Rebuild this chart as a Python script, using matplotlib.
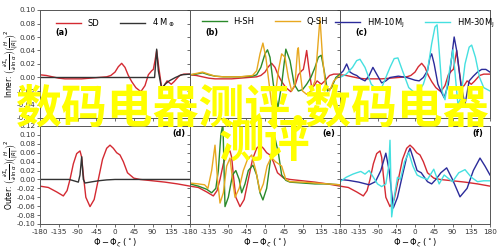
import matplotlib
matplotlib.use("Agg")
import matplotlib.pyplot as plt
import numpy as np

plt.rcParams['font.family'] = ['DejaVu Sans']
plt.rcParams['axes.unicode_minus'] = False

# ---------------- data ----------------
xticks_vals = [-180, -135, -90, -45, 0, 45, 90, 135, 180]

# top row (Inner)
sd_top_x = [-180,-165,-150,-135,-120,-100,-80,-60,-40,-20,-10,0,8,16,24,32,40,50,62,72,80,88,92,96,100,105,112,118,125,135,142,155,165,180]
sd_top_y = [0.004,0.003,0.001,-0.001,-0.002,-0.002,-0.002,-0.001,0.000,0.001,0.003,0.008,0.016,0.021,0.015,0.003,-0.006,-0.015,-0.021,-0.012,0.004,0.010,0.012,0.025,0.040,0.015,-0.015,-0.012,-0.005,-0.010,-0.006,0.003,0.005,0.005]
m4_top_x = [-180,90,95,100,104,112,120,130,145,160,180]
m4_top_y = [0.0,0.0,0.0,0.042,0.010,-0.017,-0.010,-0.005,0.000,0.004,0.005]
hsh_top_x = [-180,-165,-150,-135,-120,-100,-60,-30,-20,-10,0,6,12,20,31,40,50,60,70,80,90,100,110,120,128,135,142,150,160,170,180]
hsh_top_y = [0.004,0.005,0.007,0.004,0.002,0.001,0.001,0.002,0.004,0.015,0.035,0.041,0.030,-0.010,-0.045,-0.010,0.042,0.025,-0.010,-0.020,-0.018,-0.010,0.000,0.015,0.030,0.033,0.010,-0.020,-0.015,0.000,0.005]
qsh_top_x = [-180,-165,-150,-135,-120,-100,-60,-30,-20,-12,-5,2,10,16,24,32,40,48,56,64,72,78,80,84,90,100,110,120,126,132,138,145,155,165,180]
qsh_top_y = [0.004,0.006,0.008,0.005,0.002,0.001,0.001,0.003,0.010,0.035,0.051,0.030,-0.010,-0.040,-0.030,0.010,0.035,0.030,0.000,-0.020,-0.010,0.040,0.044,0.010,-0.020,-0.025,-0.020,-0.005,0.040,0.088,0.030,-0.010,-0.020,-0.005,0.003]
hm10_top_x = [-180,-172,-164,-156,-148,-140,-130,-120,-110,-101,-92,-80,-70,-60,-40,-20,0,10,20,30,36,40,46,55,62,70,80,88,94,100,110,120,130,140,150,160,170,180]
hm10_top_y = [0.005,0.010,0.020,0.008,0.005,0.003,-0.002,-0.005,0.003,0.015,0.005,-0.008,-0.005,0.000,0.002,0.000,-0.004,-0.005,0.000,0.010,0.030,0.035,0.020,-0.010,-0.020,-0.030,-0.010,0.030,0.060,0.040,-0.010,-0.040,-0.005,0.002,0.008,0.012,0.012,0.008]
hm30_top_x = [-180,-165,-150,-140,-132,-120,-105,-92,-80,-60,-50,-41,-30,-15,0,10,20,30,40,48,53,58,65,72,80,91,103,110,120,130,136,145,155,165,180]
hm30_top_y = [0.000,0.005,0.015,0.025,0.027,0.015,-0.010,-0.018,-0.015,0.015,0.028,0.029,0.010,-0.015,-0.023,-0.020,-0.010,0.010,0.050,0.075,0.078,0.040,-0.020,-0.033,0.000,0.041,-0.040,-0.030,0.020,0.045,0.048,0.030,0.000,-0.015,-0.020]

# bottom row (Outer)
sd_bot_x = [-180,-160,-140,-124,-115,-108,-100,-92,-84,-80,-76,-70,-60,-50,-40,-30,-20,-12,-4,4,12,20,30,45,60,90,120,150,180]
sd_bot_y = [-0.015,-0.018,-0.028,-0.037,-0.025,0.000,0.035,0.058,0.064,0.050,0.010,-0.040,-0.061,-0.045,0.000,0.045,0.070,0.077,0.070,0.060,0.055,0.040,0.015,0.003,0.000,-0.003,-0.006,-0.010,-0.015]
m4_bot_x = [-180,-110,-95,-88,-84,-80,-76,-72,-60,-40,-20,0,180]
m4_bot_y = [0.0,0.0,-0.004,-0.006,0.010,0.051,0.000,-0.008,-0.006,-0.003,-0.001,0.0,0.0]
hsh_bot_x = [-180,-160,-140,-128,-118,-112,-106,-101,-96,-88,-78,-70,-62,-56,-48,-40,-29,-20,-12,-5,4,14,24,32,40,50,60,90,120,150,180]
hsh_bot_y = [-0.010,-0.015,-0.022,-0.030,-0.020,0.020,0.100,0.125,-0.061,-0.040,0.010,0.020,0.000,-0.030,-0.010,0.020,0.032,0.010,-0.030,-0.046,-0.020,0.050,0.093,0.060,0.010,-0.002,-0.006,-0.008,-0.010,-0.010,-0.012]
qsh_bot_x = [-180,-160,-145,-137,-128,-120,-114,-108,-100,-92,-84,-78,-72,-62,-52,-42,-32,-22,-12,-4,5,15,25,40,50,60,90,120,150,180]
qsh_bot_y = [-0.008,-0.010,-0.012,-0.020,0.020,0.077,0.000,-0.053,-0.030,0.030,0.048,0.000,-0.040,-0.020,0.020,0.045,0.055,0.020,-0.028,-0.010,0.030,0.050,0.040,0.030,0.000,-0.005,-0.006,-0.008,-0.010,-0.012]
hm10_bot_x = [-180,-160,-135,-110,-95,-82,-70,-62,-52,-42,-30,-20,-12,-5,5,15,30,40,50,62,76,90,108,125,140,156,168,180]
hm10_bot_y = [0.000,-0.002,-0.006,-0.012,-0.005,0.020,0.059,0.020,-0.064,-0.040,0.010,0.050,0.070,0.050,0.020,0.015,-0.005,-0.010,0.000,0.015,0.026,0.000,-0.039,-0.020,0.020,0.048,0.030,0.010]
hm30_bot_x = [-180,-165,-149,-140,-130,-120,-110,-100,-90,-80,-70,-63,-60,-56,-50,-42,-35,-25,-15,-5,5,15,30,45,58,70,90,105,120,135,150,165,180]
hm30_bot_y = [-0.005,0.005,0.012,0.015,0.018,0.012,0.020,0.005,-0.010,-0.016,-0.010,0.030,0.088,-0.084,-0.040,0.005,0.000,0.040,0.060,0.030,0.010,0.005,0.000,0.023,-0.010,0.010,-0.005,0.015,0.022,0.005,-0.005,-0.003,-0.003]

RED = '#d42a32'
BLK = '#333333'
GRN = '#2a8a2a'
YEL = '#e8a820'
NAV = '#2b2b9a'
CYA = '#45e0e0'

panels_top = [
    ('(a)', [(sd_top_x, sd_top_y, RED, 'SD'), (m4_top_x, m4_top_y, BLK, r'4 M$_\oplus$')]),
    ('(b)', [(sd_top_x, sd_top_y, RED, None), (hsh_top_x, hsh_top_y, GRN, 'H-SH'), (qsh_top_x, qsh_top_y, YEL, 'Q-SH')]),
    ('(c)', [(sd_top_x, sd_top_y, RED, None), (hm10_top_x, hm10_top_y, NAV, r'HM-10M$_\mathrm{J}$'), (hm30_top_x, hm30_top_y, CYA, r'HM-30M$_\mathrm{J}$')]),
]
panels_bot = [
    ('(d)', [(sd_bot_x, sd_bot_y, RED, None), (m4_bot_x, m4_bot_y, BLK, None)]),
    ('(e)', [(sd_bot_x, sd_bot_y, RED, None), (hsh_bot_x, hsh_bot_y, GRN, None), (qsh_bot_x, qsh_bot_y, YEL, None)]),
    ('(f)', [(sd_bot_x, sd_bot_y, RED, None), (hm10_bot_x, hm10_bot_y, NAV, None), (hm30_bot_x, hm30_bot_y, CYA, None)]),
]

fig = plt.figure(figsize=(5, 2.5), dpi=100)
W = 500.0; H = 250.0
left0 = 40; pw = 150
SPINE = '#555555'
FS = 5.2
YLAB = r'$\left(\frac{\partial\Sigma_s}{\partial\,\ln\,\alpha}\right)\left(\frac{H}{|R|}\right)^2$'

def style(ax):
    for s in ax.spines.values():
        s.set_color(SPINE); s.set_linewidth(0.7)
    ax.tick_params(labelsize=FS, length=2, width=0.5, colors='#333333', pad=1.5)

for i, (lab, series) in enumerate(panels_top):
    ax = fig.add_axes([(left0 + i*pw)/W, (H-118)/H, pw/W, 108/H])
    for x, y, c, l in series:
        ax.plot(x, y, color=c, lw=1.0, label=l)
    ax.set_xlim(-180, 180); ax.set_ylim(-0.06, 0.10)
    ax.set_xticks(xticks_vals); ax.set_xticklabels([])
    ax.set_yticks(np.arange(-0.06, 0.1001, 0.02))
    if i == 0:
        ax.set_yticklabels([f'{v:.2f}' for v in np.arange(-0.06, 0.1001, 0.02)])
    else:
        ax.set_yticklabels([])
    style(ax)
    ax.legend(loc='upper center', ncol=2, frameon=False, fontsize=FS+0.8,
              handlelength=3, columnspacing=2.5, borderaxespad=0.4)
    ax.text(0.1, 0.77, lab, transform=ax.transAxes, fontsize=FS+0.6, fontweight='bold')

fig.text(0.022, (H-64)/H, 'Inner: ' + YLAB, rotation=90, ha='center', va='center', fontsize=FS+0.3)

for i, (lab, series) in enumerate(panels_bot):
    ax = fig.add_axes([(left0 + i*pw)/W, (H-224)/H, pw/W, 98/H])
    for x, y, c, l in series:
        ax.plot(x, y, color=c, lw=1.0)
    ax.set_xlim(-180, 180); ax.set_ylim(-0.10, 0.12)
    tv = xticks_vals if i == 2 else xticks_vals[:-1]
    ax.set_xticks(tv); ax.set_xticklabels([str(v) for v in tv])
    ax.set_yticks(np.arange(-0.10, 0.1201, 0.02))
    if i == 0:
        ax.set_yticklabels([f'{v:.2f}' for v in np.arange(-0.10, 0.1201, 0.02)])
    else:
        ax.set_yticklabels([])
    ax.set_xlabel(r'$\Phi - \Phi_\zeta$ ($^\circ$)', fontsize=FS+0.8, labelpad=1.5)
    style(ax)
    ax.text(0.88, 0.9, lab, transform=ax.transAxes, fontsize=FS+0.6, fontweight='bold')

fig.text(0.022, (H-175)/H, 'Outer: ' + YLAB, rotation=90, ha='center', va='center', fontsize=FS+0.3)

# watermark text
fig.text(0.505, 0.57, '数码电器测评,数码电器', ha='center', va='center', fontsize=33,
         color='#ffff00', fontweight='bold', family=['Noto Sans CJK SC', 'DejaVu Sans'])
fig.text(0.53, 0.42, '测评', ha='center', va='center', fontsize=33,
         color='#ffff00', fontweight='bold', family=['Noto Sans CJK SC', 'DejaVu Sans'])

fig.savefig('out.png', dpi=100)
